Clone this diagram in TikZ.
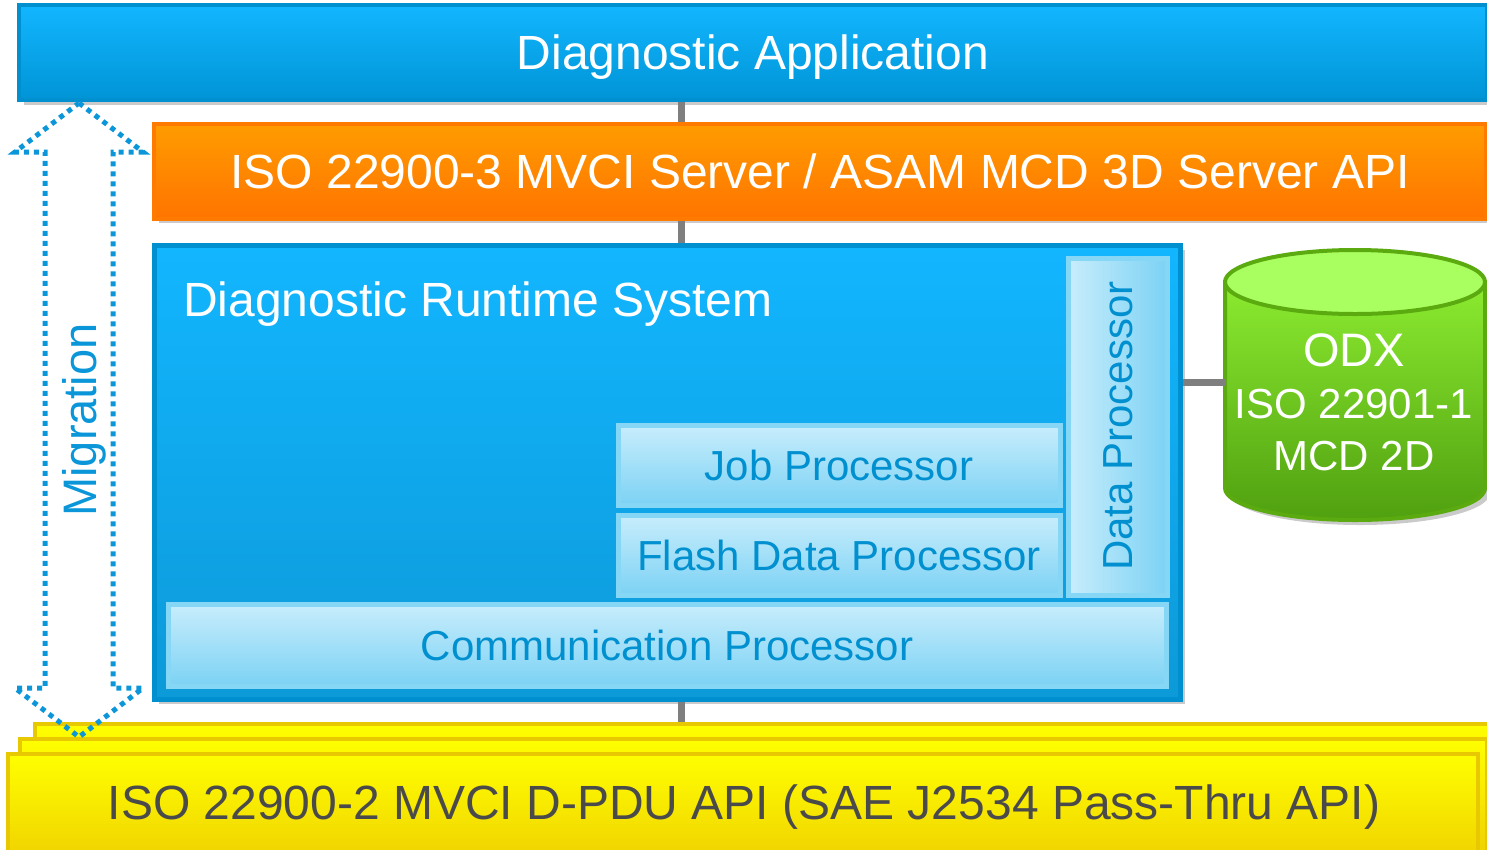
\documentclass[tikz,border=0pt]{standalone}
\usepackage{fontspec}
\setmainfont{Liberation Sans}
\definecolor{blueTop}{HTML}{12B6FF}
\definecolor{blueBot}{HTML}{0094D6}
\definecolor{blueBorder}{HTML}{0090D0}
\definecolor{lightTop}{HTML}{C8EDFC}
\definecolor{lightBot}{HTML}{7CD2F4}
\definecolor{lightBorder}{HTML}{86D6F6}
\definecolor{lightText}{HTML}{0090D0}
\definecolor{orTop}{HTML}{FF9C00}
\definecolor{orBot}{HTML}{FF7400}
\definecolor{orBorder}{HTML}{FF7A00}
\definecolor{yeTop}{HTML}{FFFF00}
\definecolor{yeBot}{HTML}{EFD000}
\definecolor{yeBorder}{HTML}{E8C800}
\definecolor{yeText}{HTML}{4A4A4A}
\definecolor{cylTop}{HTML}{AAFF60}
\definecolor{cylMid}{HTML}{8CEB30}
\definecolor{cylBot}{HTML}{50A010}
\definecolor{cylBorder}{HTML}{5AAA10}
\definecolor{connGray}{HTML}{7F7F7F}
\definecolor{shadowGray}{HTML}{CACACA}
\definecolor{migBlue}{HTML}{0A96D8}
\begin{document}
\begin{tikzpicture}[x=1pt,y=-1pt,
  conn/.style={draw=connGray, line width=7pt},
  shadowbox/.style={fill=shadowGray, draw=none},
  bluebar/.style={draw=blueBorder, line width=4pt, top color=blueTop, bottom color=blueBot, inner sep=0pt, text=white},
  orangebar/.style={draw=orBorder, line width=4pt, top color=orTop, bottom color=orBot, inner sep=0pt, text=white},
  lightbox/.style={draw=lightBorder, line width=5pt, top color=lightTop, bottom color=lightBot, inner sep=0pt, text=lightText},
  lightvbox/.style={draw=lightBorder, line width=5pt, left color=lightTop, right color=lightBot, inner sep=0pt, text=lightText},
  yellowbox/.style={draw=yeBorder, line width=4pt, top color=yeTop, bottom color=yeBot, inner sep=0pt, text=yeText},
  big/.style={font=\fontsize{48}{54}\selectfont, text height=34.4pt, text depth=0pt},
  mid/.style={font=\fontsize{42}{48}\selectfont, text height=30.1pt, text depth=0pt},
  migline/.style={draw=migBlue, line width=5pt, dash pattern=on 5pt off 5pt}
]
\useasboundingbox (0,0) rectangle (1487,849);

% shadows
\fill[shadowbox] (24,10) rectangle (1492,105);
\fill[shadowbox] (159,128) rectangle (1491,223);
\fill[shadowbox] (159,250) rectangle (1185,704);
\fill[shadowbox] (1230,287) -- (1230,493) arc[start angle=180, end angle=0, x radius=130, y radius=32] -- (1490,287) -- cycle;
\fill[shadowbox] (13,760) rectangle (1485,860);

% top bar
\node[bluebar, big, minimum width=1468pt, minimum height=95pt] (app) at (753,52.5) {Diagnostic Application};

% orange bar
\node[orangebar, big, minimum width=1332pt, minimum height=95pt] (mvci) at (820,171) {ISO 22900-3 MVCI Server / ASAM MCD 3D Server API};

% yellow stacked boxes
\node[yellowbox, minimum width=1470pt, minimum height=120pt] (pdu3) at (770,784) {};
\node[yellowbox, minimum width=1467pt, minimum height=120pt] (pdu2) at (753.5,799) {};
\node[yellowbox, minimum width=1470pt, minimum height=110pt] (pdu) at (743,809) {};
\node[big, text=yeText, inner sep=0pt] (pdutext) at (744,802.5) {ISO 22900-2 MVCI D-PDU API (SAE J2534 Pass-Thru API)};

% DRS
\node[draw=blueBorder, line width=5pt, top color=blueTop, bottom color=blueBot!95!white, minimum width=1026pt, minimum height=454pt, inner sep=0pt] (drs) at (667,472) {};
\node[font=\fontsize{48}{54}\selectfont, text=white, anchor=base west, inner sep=0pt] (drstitle) at (183,316) {Diagnostic Runtime System};

\node[lightbox, mid, minimum width=442pt, minimum height=80pt] (job) at (839,465) {Job Processor};
\node[lightbox, mid, minimum width=442pt, minimum height=80pt] (flash) at (839,555) {Flash Data Processor};
\node[lightvbox, minimum width=99pt, minimum height=337pt] (data) at (1117.5,426.5) {};
\node[mid, text=lightText, inner sep=0pt, rotate=90] (datatext) at (1117,426) {Data Processor};
\node[lightbox, mid, minimum width=998pt, minimum height=82pt] (comm) at (667,645) {Communication Processor};

% ODX cylinder
\path[draw=cylBorder, line width=4pt, top color=cylMid, bottom color=cylBot]
  (1225,282) -- (1225,488) arc[start angle=180, end angle=0, x radius=130, y radius=32] -- (1485,282) -- cycle;
\draw[cylBorder, line width=4pt, fill=cylTop] (1355,282) ellipse [x radius=130, y radius=32];
\node[minimum width=260pt, minimum height=270pt, inner sep=0pt] (odxdb) at (1355,382) {};
\node[text=white, align=center, inner sep=0pt, font=\fontsize{42}{52}\selectfont] (odx) at (1354,402)
  {{\fontsize{47}{52}\selectfont ODX}\\ISO 22901-1\\MCD 2D};

% connectors
\coordinate (cx) at (681,0);
\draw[conn] (app.south -| cx) -- (mvci.north -| cx);
\draw[conn] (mvci.south -| cx) -- (drs.north -| cx);
\draw[conn] (drs.south -| cx) -- (pdu3.north -| cx);
\draw[conn] (drs.east |- odxdb.west) -- (odxdb.west);

% migration arrow
\coordinate (mtop) at (79,103);
\coordinate (mbot) at (79,737);
\draw[migline] (mtop) -- (143,152) -- (113,152) -- (113,688) -- (143,688) -- (mbot)
  -- (15,688) -- (45,688) -- (45,152) -- (15,152) -- cycle;
\node[text=migBlue, font=\fontsize{47}{52}\selectfont, text height=33.7pt, text depth=0pt, inner sep=0pt, rotate=90] (mig) at (80,420) {Migration};
\end{tikzpicture}
\end{document}
